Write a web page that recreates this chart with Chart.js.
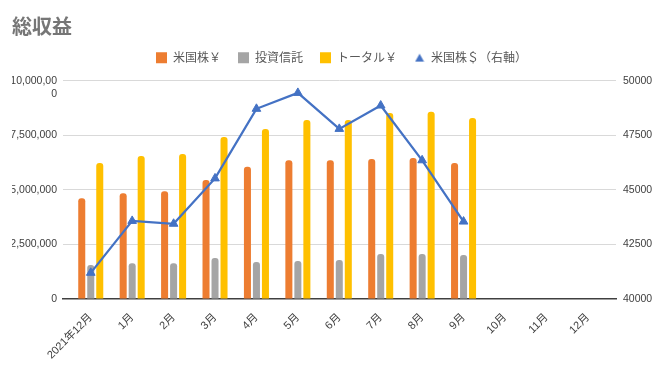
<!DOCTYPE html>
<html>
<head>
<meta charset="utf-8">
<script src="https://cdn.jsdelivr.net/npm/chart.js@4.4.1/dist/chart.umd.min.js"></script>
<style>
  html, body { margin: 0; padding: 0; background: #fff; }
  #wrap { width: 671px; height: 371px; }
</style>
</head>
<body>
<div id="wrap"><canvas id="myChart" width="671" height="371"></canvas></div>
<script>
// data
const months = ['2021年12月', '1月', '2月', '3月', '4月', '5月', '6月', '7月', '8月', '9月', '10月', '11月', '12月'];
const usStockYen = [4620000, 4850000, 4940000, 5460000, 6060000, 6360000, 6360000, 6420000, 6470000, 6240000];
const trustYen = [1560000, 1640000, 1640000, 1880000, 1700000, 1740000, 1790000, 2060000, 2060000, 2020000];
const totalYen = [6240000, 6560000, 6650000, 7430000, 7800000, 8210000, 8210000, 8530000, 8580000, 8300000];
const usStockUsd = [41200, 43580, 43450, 45530, 48720, 49450, 47800, 48870, 46360, 43550];
const leftTicks = [0, 2500000, 5000000, 7500000, 10000000];
const rightTicks = [40000, 42500, 45000, 47500, 50000];

const cjkFont = '"Noto Sans CJK JP", "Noto Sans", sans-serif';
const numFont = '"Liberation Sans", "Noto Sans CJK JP", sans-serif';
const textColor = '#404040';
const blue = '#4472C4';

// small triangle for the legend entry of the line
let tri = document.createElement('canvas');
tri.width = 10;
tri.height = 9;
let tctx = tri.getContext('2d');
tctx.fillStyle = blue;
tctx.beginPath();
tctx.moveTo(5, 0.5);
tctx.lineTo(9.5, 8.5);
tctx.lineTo(0.5, 8.5);
tctx.closePath();
tctx.fill();

// x is a linear axis so the bars can sit where the reference puts them
let toPoints = (arr) => arr.map((v, i) => ({ x: i, y: v }));

let barSet = (label, data, color) => ({
    label: label,
    data: toPoints(data),
    backgroundColor: color,
    borderRadius: 3,
    pointStyle: 'rect',
    categoryPercentage: 0.652,
    barPercentage: 0.78,
    yAxisID: 'y',
    order: 1
});

let ctx = document.getElementById('myChart').getContext('2d');
let myChart = new Chart(ctx, {
    type: 'bar',
    data: {
        datasets: [
            barSet('米国株￥', usStockYen, '#ED7D31'),
            barSet('投資信託', trustYen, '#A5A5A5'),
            barSet('トータル￥', totalYen, '#FFC000'),
            {
                type: 'line',
                label: '米国株＄（右軸）',
                data: toPoints(usStockUsd),
                borderColor: blue,
                backgroundColor: blue,
                borderWidth: 2.25,
                pointStyle: 'triangle',
                pointRadius: 5,
                pointBorderWidth: 1,
                tension: 0,
                yAxisID: 'y1',
                order: 0
            }
        ]
    },
    options: {
        responsive: false,
        animation: false,
        layout: { padding: { left: 12, right: 0, top: 0, bottom: 0 } },
        plugins: {
            tooltip: { enabled: false },
            title: {
                display: true,
                text: '総収益',
                align: 'start',
                color: '#767676',
                font: { family: cjkFont, size: 20, weight: 'bold', lineHeight: 0.8 },
                padding: { top: 18.7, bottom: 0 }
            },
            // empty subtitle used only as a gap between legend and plot
            subtitle: {
                display: true,
                text: '',
                weight: 500,
                font: { size: 1 },
                padding: { top: 6, bottom: 0 }
            },
            legend: {
                position: 'top',
                labels: {
                    usePointStyle: true,
                    boxWidth: 11,
                    boxHeight: 11,
                    padding: 17,
                    color: '#595959',
                    font: { family: cjkFont, size: 12 },
                    generateLabels: (chart) => {
                        let items = Chart.defaults.plugins.legend.labels.generateLabels(chart);
                        items.forEach(it => { if (it.datasetIndex === 3) it.pointStyle = tri; });
                        return items;
                    },
                    sort: (a, b) => a.datasetIndex - b.datasetIndex
                }
            }
        },
        scales: {
            x: {
                type: 'linear',
                offset: false,
                min: -0.67,
                max: 12.68,
                afterBuildTicks: (axis) => { axis.ticks = months.map((m, i) => ({ value: i })); },
                afterFit: (axis) => { axis.height = 72; },
                grid: { display: false },
                border: { display: true, color: '#404040', width: 1.5 },
                ticks: {
                    autoSkip: false,
                    minRotation: 45,
                    maxRotation: 45,
                    padding: 4,
                    color: textColor,
                    font: { family: numFont, size: 11 },
                    callback: (v) => months[v]
                }
            },
            y: {
                position: 'left',
                min: 0,
                max: 10000000,
                afterBuildTicks: (axis) => { axis.ticks = leftTicks.map(v => ({ value: v })); },
                afterFit: (axis) => { axis.width = 51; },
                border: { display: false },
                grid: {
                    drawTicks: false,
                    color: (c) => c.tick && c.tick.value === 0 ? 'rgba(0,0,0,0)' : '#D9D9D9',
                    lineWidth: 1
                },
                ticks: {
                    padding: 6,
                    color: textColor,
                    font: { family: numFont, size: 10.5, lineHeight: 1.3 },
                    callback: (v) => v === 10000000 ? ['', '10,000,00', '0'] : v.toLocaleString('en-US')
                }
            },
            y1: {
                position: 'right',
                min: 40000,
                max: 50000,
                afterBuildTicks: (axis) => { axis.ticks = rightTicks.map(v => ({ value: v })); },
                afterFit: (axis) => { axis.width = 55; },
                border: { display: false },
                grid: { drawOnChartArea: false, drawTicks: false },
                ticks: {
                    padding: 7,
                    color: textColor,
                    font: { family: numFont, size: 10.5 },
                    callback: (v) => String(v)
                }
            }
        }
    }
});
</script>
</body>
</html>
